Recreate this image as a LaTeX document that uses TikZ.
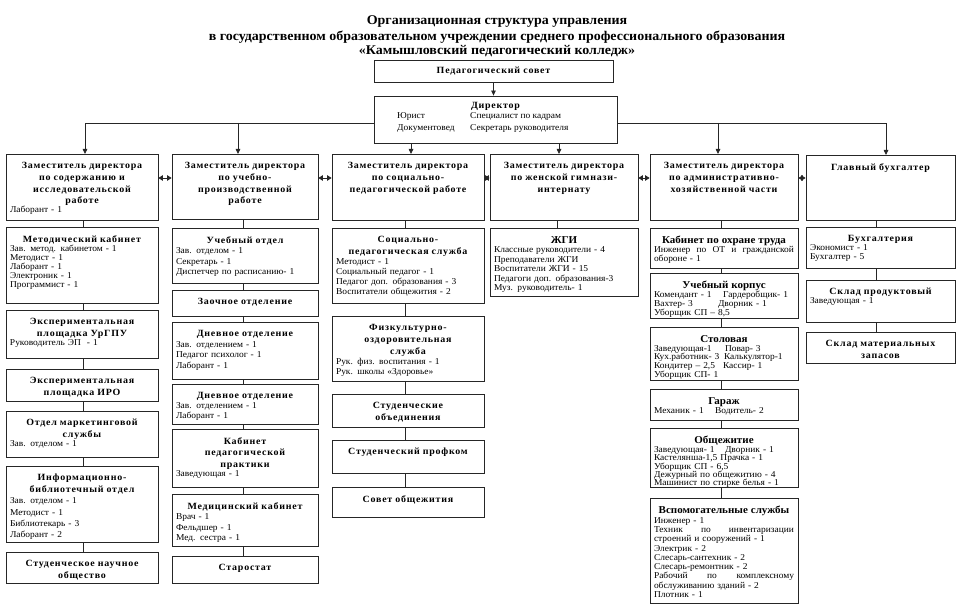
\documentclass[tikz,border=0pt]{standalone}
\usepackage{fontspec}
\setmainfont{Liberation Serif}[FakeStretch=1.05]
\usetikzlibrary{arrows.meta,fit,calc}
\newcommand\hdfont{\fontsize{9.5}{11.8}\selectfont\bfseries\addfontfeature{LetterSpace=8}}
\newcommand\hbfont{\fontsize{10.5}{11.8}\selectfont\bfseries}
\newcommand\HD[1]{{\hdfont\centering #1\par}}
\newcommand\HB[1]{{\hbfont\centering #1\par}}
\newcommand\jline[1]{\par\hbox to\hsize{#1}}
\newcommand\BX[7][9]{%
  \node[boxs, fit={(#3,#4)(#5,#6)}] (#2) {};
  \pgfmathsetmacro\tw{#5-#3-8}%
  \node[txt, text width=\tw pt, font={\fontsize{9}{#1}\selectfont}] (#2t) at ([yshift=-8.5pt]#2.north) {#7};}
\newcommand\VC[3][0]{\draw[ln] ($(#2.south)+(#1,0)$) -- ($(#2.south |- #3.north)+(#1,0)$);}
\begin{document}
\begin{tikzpicture}[x=1pt,y=-1pt,
  boxs/.style={draw=black!85, line width=0.8pt, inner sep=0pt},
  txt/.style={inner sep=0pt, anchor=north, align=left, execute at begin node={\parindent=0pt}},
  ln/.style={draw=black!85, line width=0.8pt},
  arr/.style={ln, -{Triangle[length=5pt,width=4.5pt]}},
  darr/.style={ln, {Triangle[length=4.5pt,width=5.5pt]}-{Triangle[length=4.5pt,width=5.5pt]}},
  ttl/.style={inner sep=0pt, font=\fontsize{13.3}{14}\selectfont\bfseries}]
\useasboundingbox[fill=white] (0,0) rectangle (960,612);
% title
\node[ttl] (ti1) at (497,22) {Организационная структура управления};
\node[ttl] (ti2) at (497,37.5) {в государственном образовательном учреждении среднего профессионального образования};
\node[ttl] (ti3) at (497,51) {«Камышловский педагогический колледж»};
% pedagogical council and director
\node[boxs, fit={(374,60)(613,82)}] (ps) {};
\node[inner sep=0pt, font=\hdfont] (pst) at (ps.center) {Педагогический совет};
\node[boxs, fit={(374,96)(617,143)}] (dir) {};
\node[inner sep=0pt, anchor=north, font=\hdfont] (dirh) at ([yshift=-6.5pt]dir.north) {Директор};
\node[inner sep=0pt, anchor=north west, align=left, font={\fontsize{9}{12}\selectfont}] (dirb) at (397,112)
  {\makebox[73pt][l]{Юрист}Специалист по кадрам\\\makebox[73pt][l]{Документовед}Секретарь руководителя};
\draw[arr] (ps.south) -- (ps.south |- dir.north);
% column 1
\BX{c1}{6}{154}{158}{220}{\HD{Заместитель директора\\по содержанию и\\исследовательской\\работе}Лаборант - 1}
\BX{m1}{6}{227}{158}{303}{\HD{Методический кабинет}Зав. метод. кабинетом - 1\\Методист - 1\\Лаборант - 1\\Электроник - 1\\Программист - 1}
\BX{m2}{6}{310}{158}{358}{\HD{Экспериментальная\\площадка УрГПУ}Руководитель ЭП~~- 1}
\BX{m3}{6}{369}{158}{401}{\HD{Экспериментальная\\площадка ИРО}}
\BX{m4}{6}{411}{158}{457}{\HD{Отдел маркетинговой\\службы}Зав. отделом - 1}
\BX[11.2]{m5}{6}{466}{158}{542}{\HD{Информационно-\\библиотечный отдел}Зав. отделом - 1\\Методист - 1\\Библиотекарь - 3\\Лаборант - 2}
\BX{m6}{6}{552}{158}{583}{\HD{Студенческое научное\\общество}}
% column 2
\BX{c2}{172}{154}{318}{219}{\HD{Заместитель директора\\по учебно-\\производственной\\работе}}
\BX[10.5]{u1}{172}{228}{318}{283}{\HD{Учебный отдел}Зав. отделом - 1\\Секретарь - 1\\Диспетчер по расписанию- 1}
\BX{u2}{172}{290}{318}{316}{\HD{Заочное отделение}}
\BX[10.5]{u3}{172}{322}{318}{379}{\HD{Дневное отделение}Зав. отделением - 1\\Педагог психолог - 1\\Лаборант - 1}
\BX[10]{u4}{172}{384}{318}{424}{\HD{Дневное отделение}Зав. отделением - 1\\Лаборант - 1}
\BX{u5}{172}{429}{318}{487}{\HD{Кабинет\\педагогической\\практики}Заведующая - 1}
\BX[10.5]{u6}{172}{494}{318}{546}{\HD{Медицинский кабинет}Врач - 1\\Фельдшер - 1\\Мед. сестра - 1}
\BX{u7}{172}{556}{318}{583}{\HD{Старостат}}
% column 3
\BX{c3}{332}{154}{484}{220}{\HD{Заместитель директора\\по социально-\\педагогической работе}}
\BX[10]{s1}{332}{228}{484}{303}{\HD{Социально-\\педагогическая служба}Методист - 1\\Социальный педагог - 1\\Педагог доп. образования - 3\\Воспитатели общежития - 2}
\BX[10]{s2}{332}{316}{484}{381}{\HD{Физкультурно-\\оздоровительная\\служба}Рук. физ. воспитания - 1\\Рук. школы «Здоровье»}
\BX{s3}{332}{394}{484}{427}{\HD{Студенческие\\объединения}}
\BX{s4}{332}{440}{484}{473}{\HD{Студенческий профком}}
\BX{s5}{332}{487}{484}{517}{\HD{Совет общежития}}
% column 4
\BX{c4}{490}{154}{638}{220}{\HD{Заместитель директора\\по женской гимнази-\\интернату}}
\BX[9.5]{g1}{490}{228}{638}{296}{\HB{ЖГИ}Классные руководители - 4\\Преподаватели ЖГИ\\Воспитатели ЖГИ - 15\\Педагоги доп. образования-3\\Муз. руководитель- 1}
% column 5
\BX{c5}{650}{154}{798}{220}{\HD{Заместитель директора\\по административно-\\хозяйственной части}}
\BX{a1}{650}{228}{798}{268}{\HB{Кабинет по охране труда}\jline{Инженер\hfill по\hfill ОТ\hfill и\hfill гражданской}обороне - 1}
\BX{a2}{650}{273}{798}{318}{\HB{Учебный корпус}\makebox[69pt][l]{Комендант - 1}Гардеробщик- 1\\\makebox[64pt][l]{Вахтер- 3}Дворник - 1\\Уборщик СП – 8,5}
\BX[8.8]{a3}{650}{327}{798}{380}{\HB{Столовая}\makebox[71pt][l]{Заведующая-1}Повар- 3\\\makebox[70pt][l]{Кух.работник- 3}Калькулятор-1\\\makebox[69pt][l]{Кондитер – 2,5}Кассир- 1\\Уборщик СП- 1}
\BX{a4}{650}{389}{798}{420}{\HB{Гараж}\makebox[61pt][l]{Механик - 1}Водитель- 2}
\BX[8.4]{a5}{650}{428}{798}{487}{\HB{Общежитие}\makebox[71pt][l]{Заведующая- 1}Дворник - 1\\Кастелянша-1,5 Прачка - 1\\Уборщик СП - 6,5\\Дежурный по общежитию - 4\\Машинист по стирке белья - 1}
\BX[9.3]{a6}{650}{498}{798}{603}{\HB{Вспомогательные службы}Инженер - 1\jline{Техник\hfill по\hfill инвентаризации}строений и сооружений - 1\\Электрик - 2\\Слесарь-сантехник - 2\\Слесарь-ремонтник - 2\jline{Рабочий\hfill по\hfill комплексному}обслуживанию зданий - 2\\Плотник - 1}
% column 6
\BX{b0}{806}{155}{955}{220}{\HD{Главный бухгалтер}}
\BX{b1}{806}{227}{955}{268}{\HD{Бухгалтерия}Экономист - 1\\Бухгалтер - 5}
\BX{b2}{806}{280}{955}{322}{\HD{Склад продуктовый}Заведующая - 1}
\BX{b3}{806}{332}{955}{363}{\HD{Склад материальных\\запасов}}
% director to deputies
\coordinate (hb) at (0,123);
\coordinate (dy) at (0,178);
\coordinate (p1) at (85,154);
\coordinate (p2) at (238,154);
\coordinate (p3) at (411,154);
\coordinate (p4) at (559,154);
\coordinate (p5) at (718,154);
\coordinate (p6) at (886,155);
\draw[arr] (dir.west |- hb) -| (p1);
\draw[arr] (dir.east |- hb) -| (p6);
\draw[arr] (p2 |- hb) -- (p2);
\draw[arr] (p5 |- hb) -- (p5);
\draw[arr] (p3 |- dir.south) -- (p3);
\draw[arr] (p4 |- dir.south) -- (p4);
% links between deputies
\draw[darr] (c1.east |- dy) -- (c2.west |- dy);
\draw[darr] (c2.east |- dy) -- (c3.west |- dy);
\draw[darr] (c3.east |- dy) -- (c4.west |- dy);
\draw[darr] (c4.east |- dy) -- (c5.west |- dy);
\draw[darr] (c5.east |- dy) -- (b0.west |- dy);
% column connectors
\VC[1]{c1}{m1}\VC[1]{m1}{m2}\VC[1]{m2}{m3}\VC[1]{m3}{m4}\VC[1]{m4}{m5}\VC[1]{m5}{m6}
\VC[-2]{c2}{u1}\VC[-2]{u1}{u2}\VC[-2]{u2}{u3}\VC[-2]{u3}{u4}\VC[-2]{u4}{u5}\VC[-2]{u5}{u6}\VC[-2]{u6}{u7}
\VC[-3]{c3}{s1}\VC[-3]{s1}{s2}\VC[-3]{s2}{s3}\VC[-3]{s3}{s4}\VC[-3]{s4}{s5}
\VC[-7]{c4}{g1}
\VC[-3]{c5}{a1}\VC[-3]{a1}{a2}\VC[-3]{a2}{a3}\VC[-3]{a3}{a4}\VC[-3]{a4}{a5}\VC[-3]{a5}{a6}
\VC[-4]{b0}{b1}\VC[-4]{b1}{b2}\VC[-4]{b2}{b3}
\end{tikzpicture}
\end{document}
